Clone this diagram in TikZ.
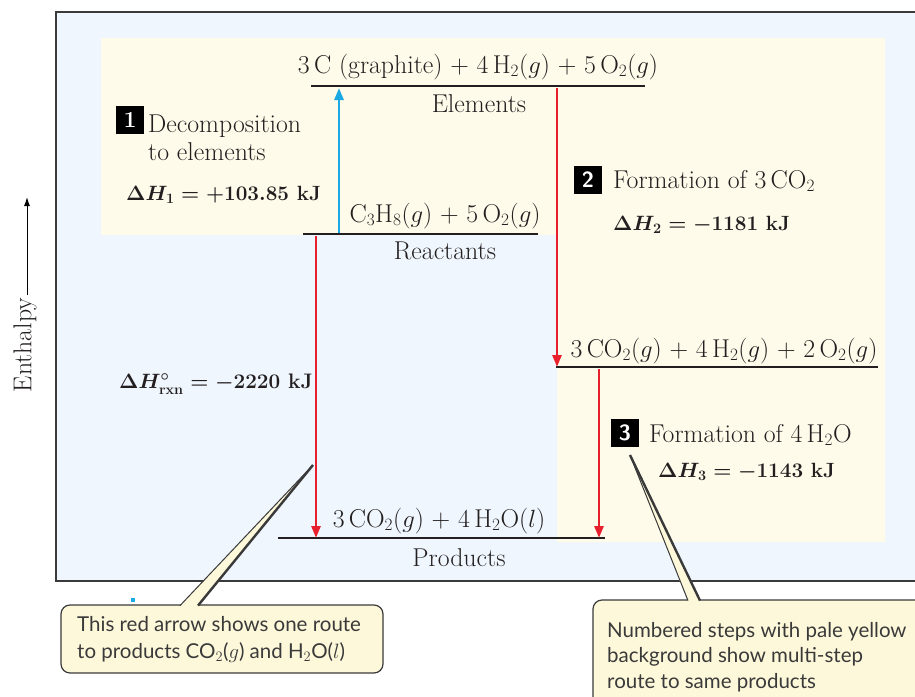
\documentclass[tikz,border=0pt]{standalone}
\usepackage{amsmath}
\usepackage{fontspec}
\newfontfamily\callfont{Lato}
\usetikzlibrary{arrows.meta}
\definecolor{bgblue}{HTML}{EFF6FD}
\definecolor{bgyellow}{HTML}{FEFBEA}
\definecolor{callfill}{HTML}{FDF8DA}
\definecolor{arrred}{HTML}{E8202E}
\definecolor{arrcyan}{HTML}{1CA8E2}
\definecolor{edgegray}{HTML}{3A3A3A}
\definecolor{inkblack}{HTML}{231F20}
\tikzset{
  lbl/.style={font=\fontsize{25.8}{30}\selectfont, inner sep=0pt, text=inkblack},
  blbl/.style={font=\fontsize{20.6}{24}\selectfont\bfseries\boldmath, inner sep=0pt, text=inkblack, anchor=base west},
  level/.style={line width=2.6pt, draw=inkblack},
  redarrow/.style={line width=2.6pt, draw=arrred, -{Triangle[length=12pt,width=9pt]}, shorten >=-1pt},
  cyanarrow/.style={line width=2.6pt, draw=arrcyan, -{Triangle[length=12pt,width=9pt]}},
  numbox/.style={fill=black, text=white, minimum size=28pt, inner sep=0pt},
  callbox/.style={fill=callfill, draw=edgegray, line width=1.2pt, rounded corners=9pt},
  calltext/.style={font=\callfont\fontsize{20.5}{26}\selectfont, inner sep=0pt, anchor=base west, text=edgegray},
}
\begin{document}
\begin{tikzpicture}[x=1pt,y=-1pt]
\useasboundingbox (0,0) rectangle (915,696);
% backgrounds
\fill[bgblue] (56,12) rectangle (915,581);
\draw[edgegray, line width=1.3pt] (915,12) -- (56,12) -- (56,581) -- (915,581);
\fill[bgyellow] (101,38) -- (885,38) -- (885,542) -- (557,542) -- (557,235) -- (101,235) -- cycle;

% axis
\node[lbl, rotate=90, inner sep=3pt] (enth) at (25,345) {Enthalpy};
\coordinate (axtop) at (27,197);
\draw[line width=1pt, -{Latex[length=9pt,width=6pt]}] (enth.east -| axtop) -- (axtop);

% level lines
\coordinate (elL) at (311,86);  \coordinate (elR) at (645,86);
\coordinate (reL) at (303,234); \coordinate (reR) at (538,234);
\coordinate (inL) at (556,367); \coordinate (inR) at (878,367);
\coordinate (prL) at (278,538); \coordinate (prR) at (605,538);
\draw[level] (elL) -- (elR);
\draw[level] (reL) -- (reR);
\draw[level] (inL) -- (inR);
\draw[level] (prL) -- (prR);

% level labels
\node[lbl, anchor=base] (elform) at (478,73) {3\,C (graphite) + 4\,H$_2$($g$) + 5\,O$_2$($g$)};
\node[lbl, anchor=base] (eltxt) at (479,112) {Elements};
\node[lbl, anchor=base] (reform) at (445,222) {C$_3$H$_8$($g$) + 5\,O$_2$($g$)};
\node[lbl, anchor=base] (retxt) at (445,259) {Reactants};
\node[lbl, anchor=base] (inform) at (724,357) {3\,CO$_2$($g$) + 4\,H$_2$($g$) + 2\,O$_2$($g$)};
\node[lbl, anchor=base] (prform) at (439,527) {3\,CO$_2$($g$) + 4\,H$_2$O($l$)};
\node[lbl, anchor=base] (prtxt) at (459,566) {Products};

% arrows
\coordinate (a1s) at (339,233); \coordinate (a1e) at (339,88);
\coordinate (a2s) at (557,88);  \coordinate (a2e) at (557,366);
\coordinate (a3s) at (599,369); \coordinate (a3e) at (599,537);
\coordinate (a0s) at (316,236); \coordinate (a0e) at (316,537);
\draw[cyanarrow] (a1s) -- (a1e);
\draw[redarrow] (a2s) -- (a2e);
\draw[redarrow] (a3s) -- (a3e);
\draw[redarrow] (a0s) -- (a0e);

% step 1
\node[numbox, font=\fontsize{23}{25}\selectfont\bfseries] (n1) at (130,120) {1};
\node[lbl, anchor=base west] (s1a) at (148,132) {Decomposition};
\node[lbl, anchor=base west] (s1b) at (148,160) {to elements};
\node[blbl] (s1c) at (126,200) {$\Delta H_1 = +103.85$ kJ};

% step 2
\node[numbox, font=\sffamily\fontsize{22}{25}\selectfont\bfseries] (n2) at (588,180) {2};
\node[lbl, anchor=base west] (s2a) at (613,188) {Formation of 3\,CO$_2$};
\node[blbl] (s2b) at (613,230) {$\Delta H_2 = -1181$ kJ};

% step 3
\node[numbox, font=\sffamily\fontsize{22}{25}\selectfont\bfseries] (n3) at (625,433) {3};
\node[lbl, anchor=base west] (s3a) at (649,442) {Formation of 4\,H$_2$O};
\node[blbl] (s3b) at (658,477) {$\Delta H_3 = -1143$ kJ};

% overall
\node[blbl, font=\fontsize{21}{25}\selectfont\bfseries\boldmath] (rxn) at (119,388) {$\Delta H^{\circ}_{\mathbf{rxn}} = -2220$ kJ};

% stray dot
\fill[arrcyan] (131,598) rectangle (135,602);

% callout 1
\coordinate (tip1) at (313,465);
\draw[callbox] (61,605) rectangle (383,673);
\fill[callfill] (180,606.5) -- (tip1) -- (198,606.5) -- cycle;
\draw[edgegray, line width=1pt] (180,605.6) -- (tip1);
\draw[edgegray, line width=2.4pt] (198,605.6) -- (tip1);
\node[calltext] (c1a) at (77,631) {This red arrow shows one route};
\node[calltext] (c1b) at (77,658) {to products CO$_2$($g$) and H$_2$O($l$)};

% callout 2
\coordinate (tip2) at (630,455);
\draw[callbox] (593,600) rectangle (930,710);
\fill[callfill] (688,601.5) -- (tip2) -- (700,601.5) -- cycle;
\draw[edgegray, line width=1pt] (688,600.6) -- (tip2);
\draw[edgegray, line width=2.4pt] (700,600.6) -- (tip2);
\node[calltext] (c2a) at (607,637) {Numbered steps with pale yellow};
\node[calltext] (c2b) at (607,662) {background show multi-step};
\node[calltext] (c2c) at (607,688) {route to same products};
\end{tikzpicture}
\end{document}
